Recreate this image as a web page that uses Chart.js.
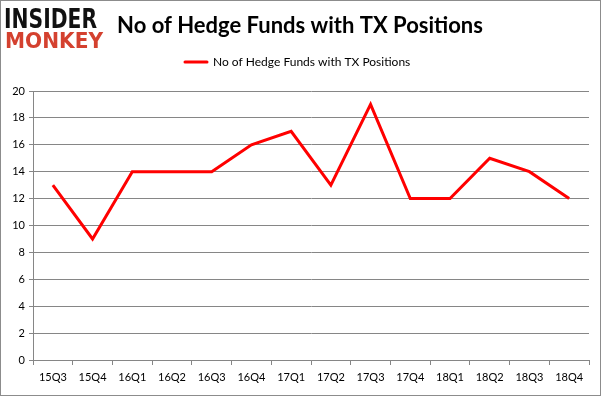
<!DOCTYPE html>
<html>
<head>
<meta charset="utf-8">
<script src="https://cdn.jsdelivr.net/npm/chart.js@4"></script>
<style>
  html, body { margin: 0; padding: 0; background: #fff; }
  #wrap { width: 601px; height: 396px; position: relative; }
</style>
</head>
<body>
<div id="wrap"><canvas id="hfChart" width="601" height="396"></canvas></div>
<script>
const chartTitle = 'No of Hedge Funds with TX Positions';
const quarters = ['15Q3', '15Q4', '16Q1', '16Q2', '16Q3', '16Q4', '17Q1', '17Q2',
                  '17Q3', '17Q4', '18Q1', '18Q2', '18Q3', '18Q4'];
const fundCounts = [13, 9, 14, 14, 14, 16, 17, 13, 19, 12, 12, 15, 14, 12];
const yTicks = [0, 2, 4, 6, 8, 10, 12, 14, 16, 18, 20];

const FONT = 'Lato, "Open Sans", sans-serif';

// squeeze a word into a given width (logo lettering)
function fitText(c, txt, x, y, w) {
    const m = c.measureText(txt).width;
    c.save();
    c.translate(x, y);
    c.scale(w / m, 1);
    c.fillText(txt, 0, 0);
    c.restore();
}

// frame, logo, title and legend drawn around the plot
const decor = {
    id: 'decor',
    beforeDraw(chart) {
        const c = chart.ctx;
        c.save();
        c.fillStyle = '#fff';
        c.fillRect(0, 0, chart.width, chart.height);
        c.restore();
    },
    afterDraw(chart) {
        const c = chart.ctx;
        c.save();
        c.strokeStyle = '#8c8c8c';
        c.lineWidth = 1;
        c.strokeRect(0.5, 0.5, chart.width - 1, chart.height - 1);

        // logo
        c.textBaseline = 'alphabetic';
        c.textAlign = 'left';
        c.font = 'bold 26px "DejaVu Sans", sans-serif';
        c.fillStyle = '#111';
        fitText(c, 'INSIDER', 4, 28, 93);
        c.font = 'bold 22px "DejaVu Sans", sans-serif';
        c.fillStyle = '#d4412f';
        fitText(c, 'MONKEY', 5, 48, 98);

        // title
        c.fillStyle = '#000';
        c.font = 'bold 22px ' + FONT;
        c.textAlign = 'center';
        c.fillText(chartTitle, 300, 33);

        // legend
        const ds = chart.data.datasets[0];
        c.strokeStyle = ds.borderColor;
        c.lineWidth = 3;
        c.lineCap = 'round';
        c.beginPath();
        c.moveTo(185, 62);
        c.lineTo(207, 62);
        c.stroke();
        c.font = '12px ' + FONT;
        c.textAlign = 'left';
        c.textBaseline = 'middle';
        c.fillStyle = '#000';
        c.fillText(ds.label, 213, 62);
        c.restore();
    }
};

new Chart(document.getElementById('hfChart'), {
    type: 'line',
    data: {
        labels: quarters,
        datasets: [{
            label: chartTitle,
            data: fundCounts,
            borderColor: '#ff0000',
            backgroundColor: '#ff0000',
            borderWidth: 3,
            pointRadius: 0,
            tension: 0,
            fill: false
        }]
    },
    options: {
        responsive: false,
        animation: false,
        layout: { padding: { top: 91, right: 12, left: 0, bottom: 0 } },
        plugins: {
            legend: { display: false },
            title: { display: false },
            tooltip: { enabled: false }
        },
        scales: {
            x: {
                offset: true,
                grid: {
                    offset: true,
                    drawOnChartArea: false,
                    drawTicks: true,
                    tickLength: 5,
                    color: '#868686'
                },
                border: { color: '#868686' },
                ticks: {
                    color: '#000',
                    font: { family: FONT, size: 11 },
                    maxRotation: 0,
                    autoSkip: false,
                    padding: 6
                },
                afterFit: scale => { scale.height = 36; }
            },
            y: {
                min: 0,
                max: 20,
                afterBuildTicks: scale => {
                    scale.ticks = yTicks.map(v => ({ value: v }));
                },
                grid: { color: '#868686', tickLength: 4 },
                border: { color: '#868686' },
                ticks: {
                    color: '#000',
                    font: { family: FONT, size: 11 },
                    padding: 4
                },
                afterFit: scale => { scale.width = 33; }
            }
        }
    },
    plugins: [decor]
});
</script>
</body>
</html>
